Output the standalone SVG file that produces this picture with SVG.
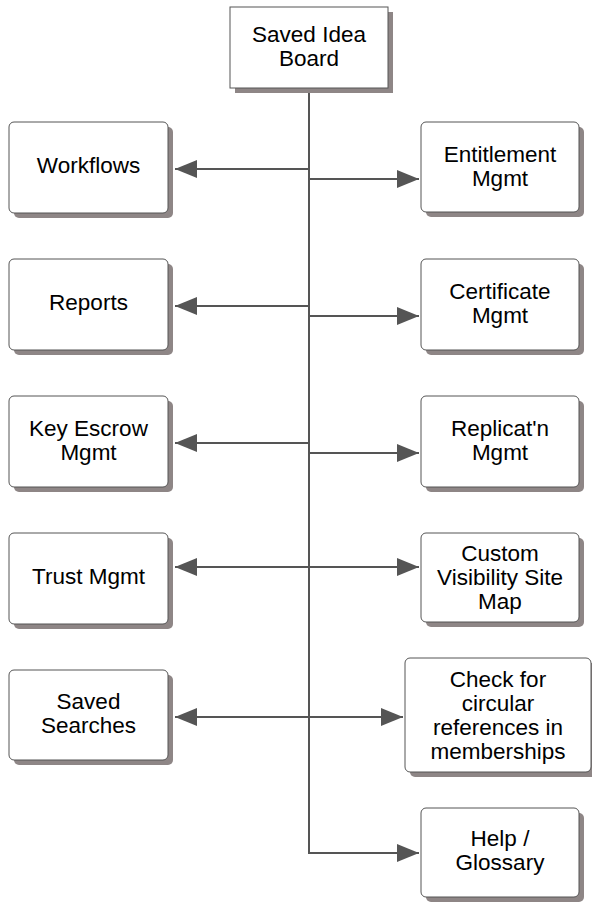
<svg xmlns="http://www.w3.org/2000/svg" width="592" height="903" viewBox="0 0 592 903">
<style>
.box{fill:#ffffff;stroke:#555555;stroke-width:1}
.sh{fill:#8e8686}
.t{font-family:"Liberation Sans",Arial,sans-serif;font-size:22.5px;fill:#000000;text-anchor:middle}
.c{fill:none;stroke:#555555;stroke-width:2}
</style>
<defs>
<marker id="ah" markerUnits="userSpaceOnUse" markerWidth="24" markerHeight="20" refX="22" refY="9" orient="auto-start-reverse">
<path d="M0,0 L22,9 L0,18 z" fill="#555555"/>
</marker>
</defs>
<rect width="592" height="903" fill="#ffffff"/>
<g id="connectors">
<path class="c" d="M309,88 V853 H419" marker-end="url(#ah)"/>
<line class="c" x1="309" y1="169" x2="175" y2="169" marker-end="url(#ah)"/>
<line class="c" x1="309" y1="179" x2="419" y2="179" marker-end="url(#ah)"/>
<line class="c" x1="309" y1="306" x2="175" y2="306" marker-end="url(#ah)"/>
<line class="c" x1="309" y1="316" x2="419" y2="316" marker-end="url(#ah)"/>
<line class="c" x1="309" y1="443" x2="175" y2="443" marker-end="url(#ah)"/>
<line class="c" x1="309" y1="453" x2="419" y2="453" marker-end="url(#ah)"/>
<line class="c" x1="175" y1="567" x2="419" y2="567" marker-start="url(#ah)" marker-end="url(#ah)"/>
<line class="c" x1="175" y1="717" x2="403" y2="717" marker-start="url(#ah)" marker-end="url(#ah)"/>
</g>
<g id="saved-idea-board">
<rect class="sh" x="235" y="12" width="158" height="81"/>
<rect class="box" x="230" y="7" width="158" height="81"/>
<text class="t" x="309" y="42">Saved Idea</text>
<text class="t" x="309" y="66">Board</text>
</g>
<g id="workflows">
<rect class="sh" x="14" y="127" width="159" height="91" rx="5"/>
<rect class="box" x="9" y="122" width="159" height="91" rx="5"/>
<text class="t" x="88.5" y="173">Workflows</text>
</g>
<g id="entitlement-mgmt">
<rect class="sh" x="426" y="127" width="158" height="90" rx="5"/>
<rect class="box" x="421" y="122" width="158" height="90" rx="5"/>
<text class="t" x="500" y="162">Entitlement</text>
<text class="t" x="500" y="186">Mgmt</text>
</g>
<g id="reports">
<rect class="sh" x="14" y="264" width="159" height="91" rx="5"/>
<rect class="box" x="9" y="259" width="159" height="91" rx="5"/>
<text class="t" x="88.5" y="310">Reports</text>
</g>
<g id="certificate-mgmt">
<rect class="sh" x="426" y="264" width="158" height="91" rx="5"/>
<rect class="box" x="421" y="259" width="158" height="91" rx="5"/>
<text class="t" x="500" y="299">Certificate</text>
<text class="t" x="500" y="323">Mgmt</text>
</g>
<g id="key-escrow-mgmt">
<rect class="sh" x="14" y="401" width="159" height="91" rx="5"/>
<rect class="box" x="9" y="396" width="159" height="91" rx="5"/>
<text class="t" x="88.5" y="436">Key Escrow</text>
<text class="t" x="88.5" y="460">Mgmt</text>
</g>
<g id="replication-mgmt">
<rect class="sh" x="426" y="401" width="158" height="91" rx="5"/>
<rect class="box" x="421" y="396" width="158" height="91" rx="5"/>
<text class="t" x="500" y="436">Replicat'n</text>
<text class="t" x="500" y="460">Mgmt</text>
</g>
<g id="trust-mgmt">
<rect class="sh" x="14" y="538" width="159" height="91" rx="5"/>
<rect class="box" x="9" y="533" width="159" height="91" rx="5"/>
<text class="t" x="88.5" y="584">Trust Mgmt</text>
</g>
<g id="custom-visibility-site-map">
<rect class="sh" x="426" y="538" width="158" height="89" rx="5"/>
<rect class="box" x="421" y="533" width="158" height="89" rx="5"/>
<text class="t" x="500" y="561">Custom</text>
<text class="t" x="500" y="585">Visibility Site</text>
<text class="t" x="500" y="609">Map</text>
</g>
<g id="saved-searches">
<rect class="sh" x="14" y="675" width="159" height="90" rx="5"/>
<rect class="box" x="9" y="670" width="159" height="90" rx="5"/>
<text class="t" x="88.5" y="709">Saved</text>
<text class="t" x="88.5" y="733">Searches</text>
</g>
<g id="check-circular-references">
<rect class="sh" x="410" y="663" width="186" height="114" rx="5"/>
<rect class="box" x="405" y="658" width="186" height="114" rx="5"/>
<text class="t" x="498" y="687">Check for</text>
<text class="t" x="498" y="711">circular</text>
<text class="t" x="498" y="735">references in</text>
<text class="t" x="498" y="759">memberships</text>
</g>
<g id="help-glossary">
<rect class="sh" x="426" y="813" width="158" height="89" rx="5"/>
<rect class="box" x="421" y="808" width="158" height="89" rx="5"/>
<text class="t" x="500" y="846">Help /</text>
<text class="t" x="500" y="870">Glossary</text>
</g>
</svg>
